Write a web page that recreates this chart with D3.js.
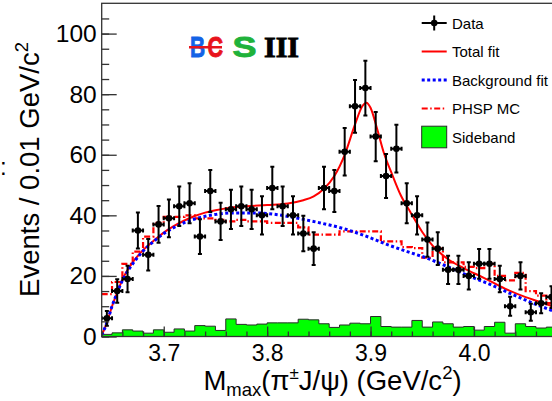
<!DOCTYPE html>
<html>
<head>
<meta charset="utf-8">
<script src="https://cdn.jsdelivr.net/npm/d3@7"></script>
<style>
  body { margin: 0; background: #fff; }
  svg { display: block; font-family: "Liberation Sans", Arial, Helvetica, sans-serif; }
</style>
</head>
<body>
<div id="chart"></div>
<script>
// histogram bins: 0.01 GeV/c2 wide, starting at 3.64
const binStart = 3.64;
const binWidth = 0.01;

const dataCounts = [6, 15, 19, 35, 27, 37, 39, 43, 44, 33,
                    48, 38, 42, 43, 42, 40, 49, 43, 40, 34,
                    29, 49, 48, 61, 76, 82, 66, 53, 62, 44,
                    40, 32, 29, 22, 22, 20, 24, 24, 19, 10,
                    20, 8, 11, 13];

const sidebandCounts = [0.7, 1.2, 2.2, 1.8, 1.1, 2.2, 1.4, 2.5, 1.8, 3.6,
                        3.4, 2.0, 5.8, 4.0, 3.8, 4.1, 4.5, 4.5, 4.5, 5.7,
                        5.5, 4.2, 3.0, 3.8, 4.4, 4.2, 6.6, 3.3, 3.1, 3.1,
                        5.3, 3.1, 4.8, 4.2, 3.1, 3.3, 2.1, 3.3, 4.7, 1.1,
                        4.2, 3.3, 2.8, 3.1];

const phspCounts = [14, 18, 24, 28, 33, 37.5, 39.5, 39.5, 40, 39,
                    39, 38.5, 38, 38.5, 38, 38, 37.5, 37.5, 37.5, 36,
                    33.6, 33.6, 33.6, 34.7, 34.7, 34.7, 34.7, 31.4, 31.4, 29.5,
                    29.2, 26, 29, 24.5, 24.5, 23, 22.6, 24, 20, 18.5,
                    21, 15, 13.5, 11];

// fit curves
const totalFitMass = [3.640, 3.645, 3.650, 3.655, 3.660, 3.670, 3.680, 3.690, 3.700, 3.710,
                      3.720, 3.730, 3.740, 3.750, 3.760, 3.780, 3.800, 3.820, 3.835, 3.845,
                      3.855, 3.865, 3.875, 3.885, 3.892, 3.896, 3.900, 3.906, 3.913, 3.921,
                      3.929, 3.939, 3.950, 3.960, 3.975, 3.990, 4.010, 4.030, 4.050, 4.065, 4.080];
const totalFitValue = [0.5, 4.5, 10, 14.5, 18.8, 24.5, 28.5, 31.5, 34.3, 36.5,
                       38.3, 39.8, 40.9, 41.7, 42.3, 43, 43.4, 43.9, 45, 46.3,
                       48.8, 53, 60, 70, 76, 77.2, 75.5, 69, 60.5, 53.4,
                       46.8, 40.8, 34.5, 30, 25.5, 22.6, 19.3, 15.8, 13, 11.3, 9.5];

const bkgFitMass = [3.640, 3.645, 3.650, 3.655, 3.660, 3.670, 3.680, 3.690, 3.700, 3.710,
                    3.720, 3.730, 3.740, 3.750, 3.765, 3.790, 3.810, 3.830, 3.850, 3.875,
                    3.895, 3.915, 3.935, 3.955, 3.975, 3.995, 4.015, 4.035, 4.055, 4.080];
const bkgFitValue = [0.5, 4.5, 10, 14.5, 18.5, 24, 28.2, 31.3, 34, 36,
                     37.6, 38.8, 39.7, 40.3, 40.8, 40.8, 40.2, 39, 37.6, 35.5,
                     33.2, 30.5, 28.1, 25.8, 23, 20, 17.3, 14.2, 11.3, 8];

const xTickValues = [3.7, 3.8, 3.9, 4.0];
const yTickValues = [0, 20, 40, 60, 80, 100];
const legendLabels = ["Data", "Total fit", "Background fit", "PHSP MC", "Sideband"];

const W = 552, H = 401;
const axisColor = "#333";

const svg = d3.select("#chart").append("svg")
    .attr("width", W)
    .attr("height", H);

svg.append("rect").attr("width", W).attr("height", H).attr("fill", "#fff");

const x = d3.scaleLinear().domain([3.64, 4.10]).range([101.7, 101.7 + 0.46 * 1034]);
const y = d3.scaleLinear().domain([0, 110]).range([336.5, 3.3]);

// clip to the frame
svg.append("defs").append("clipPath").attr("id", "frame")
    .append("rect")
    .attr("x", x(3.64)).attr("y", y(110))
    .attr("width", x(4.10) - x(3.64)).attr("height", y(0) - y(110));

const plot = svg.append("g").attr("clip-path", "url(#frame)");

// turn bin counts into step points
function stepPoints(counts) {
    let pts = counts.map((v, i) => [binStart + i * binWidth, v]);
    pts.push([binStart + counts.length * binWidth, counts[counts.length - 1]]);
    return pts;
}

// sideband histogram
const sbArea = d3.area()
    .x(d => x(d[0])).y0(y(0)).y1(d => y(d[1]))
    .curve(d3.curveStepAfter);
const stepLine = d3.line()
    .x(d => x(d[0])).y(d => y(d[1]))
    .curve(d3.curveStepAfter);

plot.append("path")
    .datum(stepPoints(sidebandCounts))
    .attr("d", sbArea)
    .attr("fill", "#00ff00");
plot.append("path")
    .datum(stepPoints(sidebandCounts))
    .attr("d", stepLine)
    .attr("fill", "none")
    .attr("stroke", "#2a2a2a")
    .attr("stroke-width", 1);

// PHSP MC (dash-dot histogram)
plot.append("path")
    .datum(stepPoints(phspCounts))
    .attr("d", stepLine)
    .attr("fill", "none")
    .attr("stroke", "#ff0000")
    .attr("stroke-width", 2.2)
    .attr("stroke-dasharray", "6,2.5,1.5,2.5");

// fit curves
const smooth = d3.line()
    .x(d => x(d[0])).y(d => y(d[1]))
    .curve(d3.curveMonotoneX);

plot.append("path")
    .datum(totalFitMass.map((m, i) => [m, totalFitValue[i]]))
    .attr("d", smooth)
    .attr("fill", "none")
    .attr("stroke", "#ff0000")
    .attr("stroke-width", 2);

plot.append("path")
    .datum(bkgFitMass.map((m, i) => [m, bkgFitValue[i]]))
    .attr("d", smooth)
    .attr("fill", "none")
    .attr("stroke", "#0000ff")
    .attr("stroke-width", 3)
    .attr("stroke-dasharray", "3,2.5");

// data points with poisson errors
const pts = dataCounts.map((v, i) => ({
    m: binStart + (i + 0.5) * binWidth,
    lo: binStart + i * binWidth,
    hi: binStart + (i + 1) * binWidth,
    v: v,
    e: Math.sqrt(v)
}));

const dataG = plot.append("g")
    .attr("stroke", "#000")
    .attr("stroke-width", 2);

const pt = dataG.selectAll("g.pt").data(pts).enter().append("g").attr("class", "pt");
pt.append("line")
    .attr("x1", d => x(d.m)).attr("x2", d => x(d.m))
    .attr("y1", d => y(d.v - d.e)).attr("y2", d => y(d.v + d.e));
pt.append("line")
    .attr("x1", d => x(d.lo)).attr("x2", d => x(d.hi))
    .attr("y1", d => y(d.v)).attr("y2", d => y(d.v));
// little end caps
pt.append("line")
    .attr("x1", d => x(d.m) - 2).attr("x2", d => x(d.m) + 2)
    .attr("y1", d => y(d.v + d.e)).attr("y2", d => y(d.v + d.e));
pt.append("line")
    .attr("x1", d => x(d.m) - 2).attr("x2", d => x(d.m) + 2)
    .attr("y1", d => y(d.v - d.e)).attr("y2", d => y(d.v - d.e));
pt.append("line")
    .attr("x1", d => x(d.lo)).attr("x2", d => x(d.lo))
    .attr("y1", d => y(d.v) - 2).attr("y2", d => y(d.v) + 2);
pt.append("line")
    .attr("x1", d => x(d.hi)).attr("x2", d => x(d.hi))
    .attr("y1", d => y(d.v) - 2).attr("y2", d => y(d.v) + 2);
pt.append("circle")
    .attr("cx", d => x(d.m)).attr("cy", d => y(d.v))
    .attr("r", 3.3)
    .attr("fill", "#000")
    .attr("stroke", "none");

// frame
svg.append("rect")
    .attr("x", x(3.64)).attr("y", y(110))
    .attr("width", x(4.10) - x(3.64)).attr("height", y(0) - y(110))
    .attr("fill", "none")
    .attr("stroke", axisColor)
    .attr("stroke-width", 1.3);

// y axis: ticks point inward
const yMinor = svg.append("g")
    .attr("transform", "translate(" + x(3.64) + ",0)")
    .call(d3.axisLeft(y).tickValues(d3.range(0, 110, 5)).tickSize(-7.5).tickSizeOuter(0).tickFormat(""));
const yMajor = svg.append("g")
    .attr("transform", "translate(" + x(3.64) + ",0)")
    .call(d3.axisLeft(y).tickValues(yTickValues).tickSize(-15).tickSizeOuter(0).tickPadding(5));
yMajor.selectAll("text").attr("font-size", 24.5).attr("fill", "#000")
    .attr("font-family", "'Liberation Sans', Arial, sans-serif");

// x axis
const xMinor = svg.append("g")
    .attr("transform", "translate(0," + y(0) + ")")
    .call(d3.axisBottom(x).tickValues(d3.range(0, 23).map(i => 3.64 + i * 0.02)).tickSize(-5).tickSizeOuter(0).tickFormat(""));
const xMajor = svg.append("g")
    .attr("transform", "translate(0," + y(0) + ")")
    .call(d3.axisBottom(x).tickValues(xTickValues).tickSize(-10).tickSizeOuter(0).tickPadding(8.2).tickFormat(d3.format(".1f")));
xMajor.selectAll("text").attr("font-size", 23).attr("fill", "#000")
    .attr("font-family", "'Liberation Sans', Arial, sans-serif");

[yMinor, yMajor, xMinor, xMajor].forEach(g => {
    g.select(".domain").remove();
    g.selectAll("line").attr("stroke", axisColor).attr("stroke-width", 1.3);
});

// axis titles
const xt = svg.append("text")
    .attr("x", 332.5).attr("y", 389.5)
    .attr("text-anchor", "middle")
    .attr("font-size", 27.5)
    .attr("fill", "#000");
xt.append("tspan").text("M");
xt.append("tspan").attr("font-size", 18.5).attr("dy", 6).text("max");
xt.append("tspan").attr("dy", -6).text("(\u03c0");
xt.append("tspan").attr("font-size", 17).attr("dy", -11).text("\u00b1");
xt.append("tspan").attr("dy", 11).text("J/\u03c8) (GeV/c");
xt.append("tspan").attr("font-size", 18.5).attr("dy", -11).text("2");
xt.append("tspan").attr("dy", 11).text(")");

const yt = svg.append("text")
    .attr("transform", "translate(38.5,42) rotate(-90)")
    .attr("text-anchor", "end")
    .attr("font-size", 27.5)
    .attr("fill", "#000");
yt.append("tspan").text("Events / 0.01 GeV/c");
yt.append("tspan").attr("font-size", 18.5).attr("dy", -11).text("2");

// leftover colon from the neighbouring panel
svg.append("text").attr("x", 0).attr("y", 175).attr("font-size", 24).text(":");

// BESIII logo, letters squeezed horizontally and thickened a bit
const logo = svg.append("g").attr("font-weight", "bold").attr("font-size", 30);
const logoLetters = [
    {t: "B", x: 190, sx: 0.7, c: "#1463e6", f: null},
    {t: "C", x: 207.5, sx: 0.72, c: "#e8141c", f: null},
    {t: "S", x: 232.5, sx: 1.2, c: "#1fb23a", f: null},
    {t: "III", x: 264, sx: 1.0, c: "#000", f: "'Liberation Serif', 'DejaVu Serif', serif"}
];
logoLetters.forEach(l => {
    const t = logo.append("text")
        .attr("transform", "translate(" + l.x + ",57) scale(" + l.sx + ",1)")
        .attr("fill", l.c)
        .attr("stroke", l.c)
        .attr("stroke-width", 0.9)
        .text(l.t);
    if (l.f) t.attr("font-family", l.f);
});
logo.append("line").attr("x1", 189).attr("x2", 222).attr("y1", 47.3).attr("y2", 47.3)
    .attr("stroke", "#e8141c").attr("stroke-width", 2.6);

// legend
const legX0 = 421.7, legX1 = 446.7, legTextX = 452;
const legY = i => 23 + i * 28.5;
const leg = svg.append("g");
leg.selectAll("text").data(legendLabels).enter().append("text")
    .attr("x", legTextX).attr("y", (d, i) => legY(i) + 5.5)
    .attr("font-size", 15)
    .attr("fill", "#000")
    .text(d => d);

// Data
leg.append("line").attr("x1", legX0).attr("x2", legX1).attr("y1", legY(0)).attr("y2", legY(0))
    .attr("stroke", "#000").attr("stroke-width", 2);
leg.append("line").attr("x1", (legX0 + legX1) / 2).attr("x2", (legX0 + legX1) / 2)
    .attr("y1", legY(0) - 7.5).attr("y2", legY(0) + 7.5)
    .attr("stroke", "#000").attr("stroke-width", 2);
leg.append("circle").attr("cx", (legX0 + legX1) / 2).attr("cy", legY(0)).attr("r", 3.3).attr("fill", "#000");
// Total fit
leg.append("line").attr("x1", legX0).attr("x2", legX1).attr("y1", legY(1)).attr("y2", legY(1))
    .attr("stroke", "#ff0000").attr("stroke-width", 2);
// Background fit
leg.append("line").attr("x1", legX0).attr("x2", legX1).attr("y1", legY(2)).attr("y2", legY(2))
    .attr("stroke", "#0000ff").attr("stroke-width", 3).attr("stroke-dasharray", "3,2.5");
// PHSP MC
leg.append("line").attr("x1", legX0).attr("x2", legX1).attr("y1", legY(3)).attr("y2", legY(3))
    .attr("stroke", "#ff0000").attr("stroke-width", 2.2).attr("stroke-dasharray", "6,2.5,1.5,2.5");
// Sideband
leg.append("rect").attr("x", legX0).attr("y", legY(4) - 10.8)
    .attr("width", legX1 - legX0).attr("height", 21.6)
    .attr("fill", "#00ff00").attr("stroke", "#2a2a2a").attr("stroke-width", 1);
</script>
</body>
</html>
